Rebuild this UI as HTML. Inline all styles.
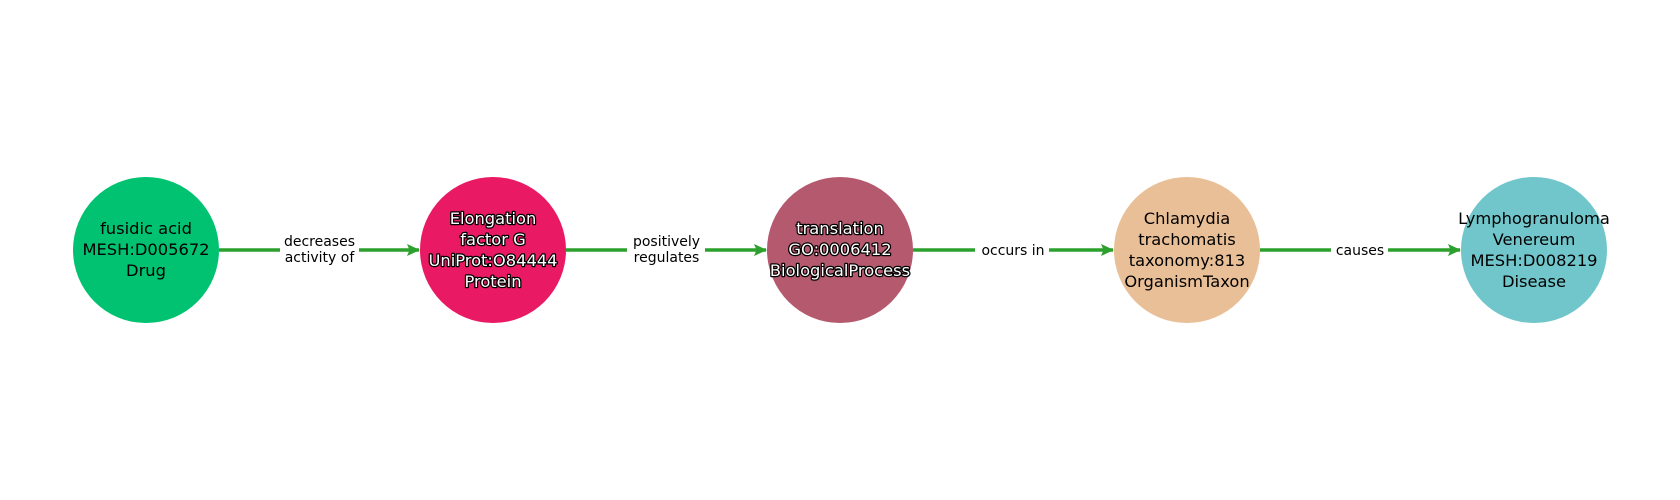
<!DOCTYPE html>
<html><head><meta charset="utf-8"><style>
html,body{margin:0;padding:0;background:#fff;}
svg{display:block;}
text{font-family:"DejaVu Sans","Liberation Sans",sans-serif;}
.n{font-size:16.3px;text-anchor:middle;}
.w{fill:#fff;stroke:#000;stroke-width:2.5px;paint-order:stroke;stroke-linejoin:round;}
.e{font-size:14px;text-anchor:middle;fill:#000;}
</style></head><body>
<svg width="1680" height="500" viewBox="0 0 1680 500" xmlns="http://www.w3.org/2000/svg">
<defs><marker id="a" markerWidth="13" markerHeight="12" refX="12" refY="6" orient="auto" markerUnits="userSpaceOnUse"><path d="M0,0 L13,6 L0,12 L2.5,6 Z" fill="#2ca02c"/></marker></defs>
<g stroke="#2ca02c" stroke-width="3.6" fill="none">
<line x1="219" y1="250" x2="419" y2="250" marker-end="url(#a)"/>
<line x1="566" y1="250" x2="766" y2="250" marker-end="url(#a)"/>
<line x1="913" y1="250" x2="1113" y2="250" marker-end="url(#a)"/>
<line x1="1260" y1="250" x2="1460" y2="250" marker-end="url(#a)"/>
</g>
<g fill="#fff">
<rect x="280" y="230" width="79" height="40"/>
<rect x="627" y="230" width="78" height="40"/>
<rect x="975" y="240" width="74" height="20"/>
<rect x="1331" y="240" width="57" height="20"/>
</g>
<text class="e" x="319.5" y="246">decreases</text>
<text class="e" x="319.5" y="262">activity of</text>
<text class="e" x="666.5" y="246">positively</text>
<text class="e" x="666.5" y="262">regulates</text>
<text class="e" x="1013" y="255">occurs in</text>
<text class="e" x="1360" y="255">causes</text>
<circle cx="146" cy="250" r="73" fill="#00c270"/>
<circle cx="493" cy="250" r="73" fill="#e91a63"/>
<circle cx="840" cy="250" r="73" fill="#b5596e"/>
<circle cx="1187" cy="250" r="73" fill="#e9bf97"/>
<circle cx="1534" cy="250" r="73" fill="#71c6cb"/>
<text class="n" x="146" y="234">fusidic acid</text>
<text class="n" x="146" y="255">MESH:D005672</text>
<text class="n" x="146" y="276">Drug</text>
<text class="n w" x="493" y="224">Elongation</text>
<text class="n w" x="493" y="245">factor G</text>
<text class="n w" x="493" y="266">UniProt:O84444</text>
<text class="n w" x="493" y="287">Protein</text>
<text class="n w" x="840" y="234">translation</text>
<text class="n w" x="840" y="255">GO:0006412</text>
<text class="n w" x="840" y="276">BiologicalProcess</text>
<text class="n" x="1187" y="224">Chlamydia</text>
<text class="n" x="1187" y="245">trachomatis</text>
<text class="n" x="1187" y="266">taxonomy:813</text>
<text class="n" x="1187" y="287">OrganismTaxon</text>
<text class="n" x="1534" y="224">Lymphogranuloma</text>
<text class="n" x="1534" y="245">Venereum</text>
<text class="n" x="1534" y="266">MESH:D008219</text>
<text class="n" x="1534" y="287">Disease</text>
</svg>
</body></html>
